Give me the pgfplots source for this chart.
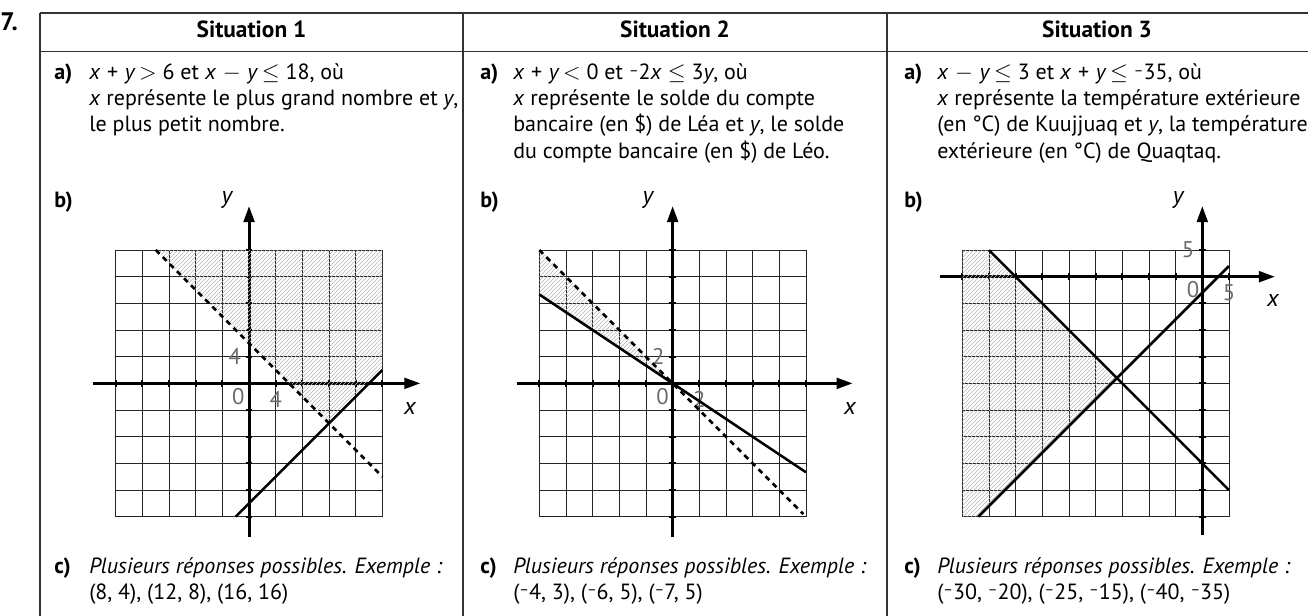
\documentclass[border=0pt]{standalone}
\usepackage{pgfplots}
\pgfplotsset{compat=1.18}
\usetikzlibrary{patterns,arrows.meta}
\usepackage{fontspec}
\setmainfont{PT Sans}

\newcommand{\vx}{\textit{x}}
\newcommand{\vy}{\textit{y}}
\newcommand{\nm}{\raisebox{.45ex}{\fontsize{11}{11}\selectfont –}}
\newcommand{\op}[1]{\hspace{0.3em}#1\hspace{0.3em}}
\definecolor{rulec}{HTML}{333333}
\definecolor{lblc}{HTML}{6A6A6A}

\pgfplotsset{
  sit/.style={
    scale only axis, width=200pt, height=200pt, anchor=south west,
    axis lines=middle, clip=false,
    grid=major, grid style={black!85, line width=0.6pt},
    xticklabels={}, yticklabels={},
    tick align=center, major tick length=5pt,
    tick style={black, line width=1.4pt},
    extra tick style={grid=none},
    tick label style={font=\fontsize{17}{17}\selectfont, text=lblc},
    /pgf/number format/assume math mode=true,
  },
  hatch/.style={draw=none, pattern=north east lines, pattern color=black!28},
  border/.style={black, line width=1.9pt},
  dashb/.style={black, line width=2pt, dash pattern=on 4pt off 3.5pt},
}
\tikzset{
  t/.style={anchor=base west, inner sep=0pt, font=\fontsize{16.5}{20}\selectfont},
  hd/.style={anchor=base, inner sep=0pt, font=\fontsize{17.5}{20}\selectfont\bfseries},
  ax/.style={inner sep=0pt, font=\fontsize{18}{18}\selectfont\itshape},
  zero/.style={inner sep=0pt, font=\fontsize{17}{17}\selectfont, text=lblc},
}

\begin{document}
\begin{tikzpicture}[x=0.75pt,y=0.75pt]
\useasboundingbox (0,0) rectangle (1308,-616);

% table
\draw[rulec, line width=1.1pt] (40,-13) -- (1308,-13);
\draw[rulec, line width=1.1pt] (40,-51.5) -- (1308,-51.5);
\draw[rulec, line width=1.1pt] (40,-13) -- (40,-616);
\draw[rulec, line width=2pt] (463,-13) -- (463,-616);
\draw[rulec, line width=1.1pt] (887,-13) -- (887,-616);

\node[anchor=base west, inner sep=0pt, font=\fontsize{19}{19}\selectfont\bfseries] at (0,-31) {7.};
\node[hd] at (251.5,-38) {Situation 1};
\node[hd] at (675,-38) {Situation 2};
\node[hd] at (1097,-38) {Situation 3};

% situation 1 text
\node[t] at (54,-80) {\textbf{a)}};
\node[t] at (89,-80) {\vx\op{+}\vy\,$>$ 6 et \vx\op{$-$}\vy\,$\leq$ 18, où};
\node[t] at (89,-106) {\vx{} représente le plus grand nombre et \vy,};
\node[t] at (89,-132) {le plus petit nombre.};
\node[t] at (54,-208) {\textbf{b)}};
\node[t] at (54,-573) {\textbf{c)}};
\node[t] at (89,-573) {\textit{Plusieurs réponses possibles. Exemple :}};
\node[t] at (89,-599) {(8, 4), (12, 8), (16, 16)};

% situation 2 text
\node[t] at (480,-80) {\textbf{a)}};
\node[t] at (513,-80) {\vx\op{+}\vy\,$<$ 0 et \nm2\vx\ $\leq$ 3\vy, où};
\node[t] at (513,-106) {\vx{} représente le solde du compte};
\node[t] at (513,-132) {bancaire (en \$) de Léa et \vy, le solde};
\node[t] at (513,-158.5) {du compte bancaire (en \$) de Léo.};
\node[t] at (480,-208) {\textbf{b)}};
\node[t] at (480,-573) {\textbf{c)}};
\node[t] at (513,-573) {\textit{Plusieurs réponses possibles. Exemple :}};
\node[t] at (513,-599) {(\nm4, 3), (\nm6, 5), (\nm7, 5)};

% situation 3 text
\node[t] at (904,-80) {\textbf{a)}};
\node[t] at (937,-80) {\vx\op{$-$}\vy\,$\leq$ 3 et \vx\op{+}\vy\,$\leq$ \nm35, où};
\node[t] at (937,-106) {\vx{} représente la température extérieure};
\node[t] at (937,-132) {(en °C) de Kuujjuaq et \vy, la température};
\node[t] at (937,-158.5) {extérieure (en °C) de Quaqtaq.};
\node[t] at (904,-208) {\textbf{b)}};
\node[t] at (904,-573) {\textbf{c)}};
\node[t] at (937,-573) {\textit{Plusieurs réponses possibles. Exemple :}};
\node[t] at (937,-599) {(\nm30, \nm20), (\nm25, \nm15), (\nm40, \nm35)};

% graph 1
\begin{axis}[sit, at={(86.775pt,-387.525pt)},
  xmin=-20, xmax=20, ymin=-20, ymax=20,
  xtick={-20,-16,...,20}, ytick={-20,-16,...,20},
  extra x ticks={4}, extra x tick labels={4},
  extra y ticks={4}, extra y tick labels={4},
  x axis line style={line width=2.2pt, -{Triangle[length=12pt,width=8pt]}, shorten <=-17pt, shorten >=-28.5pt},
  y axis line style={line width=2.2pt, -{Triangle[length=12pt,width=8pt]}, shorten <=-15pt, shorten >=-33pt},
]
\addplot[hatch] coordinates {(-14,20) (20,20) (20,2) (12,-6)} -- cycle;
\addplot[dashb] coordinates {(-14,20) (20,-14)};
\addplot[border] coordinates {(-2,-20) (20,2)};
\node[zero] at (axis cs:0,0) [xshift=-8pt, yshift=-10pt] {0};
\end{axis}
\node[ax] at (227,-200) {y};
\node[ax] at (410,-408) {x};

% graph 2
\begin{axis}[sit, at={(404.475pt,-387.525pt)},
  xmin=-10, xmax=10, ymin=-10, ymax=10,
  xtick={-10,-8,...,10}, ytick={-10,-8,...,10},
  extra x ticks={2}, extra x tick labels={2},
  extra y ticks={2}, extra y tick labels={2},
  x axis line style={line width=2.2pt, -{Triangle[length=12pt,width=8pt]}, shorten <=-17pt, shorten >=-35pt},
  y axis line style={line width=2.2pt, -{Triangle[length=12pt,width=8pt]}, shorten <=-15pt, shorten >=-33pt},
]
\addplot[hatch] coordinates {(-10,10) (-10,6.667) (0,0)} -- cycle;
\addplot[dashb] coordinates {(-10,10) (9.8,-9.8)};
\addplot[border] coordinates {(-10,6.667) (10,-6.667)};
\node[zero] at (axis cs:0,0) [xshift=-7.5pt, yshift=-10pt] {0};
\end{axis}
\node[ax] at (648,-200) {y};
\node[ax] at (850,-408) {x};

% graph 3
\begin{axis}[sit, at={(721.725pt,-387.525pt)},
  xmin=-45, xmax=5, ymin=-45, ymax=5,
  xtick={-45,-40,...,5}, ytick={-45,-40,...,5},
  extra x ticks={5}, extra x tick labels={5},
  extra y ticks={5}, extra y tick labels={5},
  x axis line style={line width=2.2pt, -{Triangle[length=12pt,width=8pt]}, shorten <=-16.7pt, shorten >=-34.5pt},
  y axis line style={line width=2.2pt, -{Triangle[length=12pt,width=8pt]}, shorten <=-13.5pt, shorten >=-33pt},
]
\addplot[hatch] coordinates {(-45,5) (-40,5) (-16,-19) (-42,-45) (-45,-45)} -- cycle;
\addplot[border] coordinates {(-40,5) (5,-40)};
\addplot[border] coordinates {(-42,-45) (5,2)};
\node[zero] at (axis cs:0,0) [xshift=-7pt, yshift=-10pt] {0};
\end{axis}
\node[ax] at (1178,-200) {y};
\node[ax] at (1273,-300) {x};
\end{tikzpicture}
\end{document}
